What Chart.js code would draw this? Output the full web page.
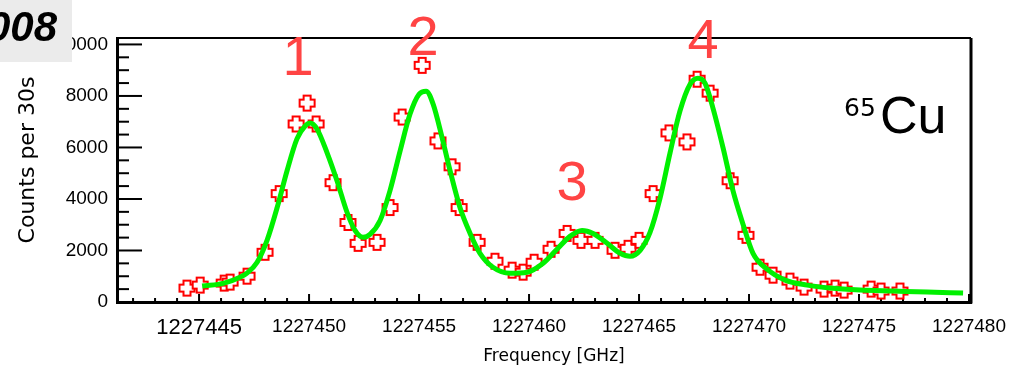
<!DOCTYPE html>
<html>
<head>
<meta charset="utf-8">
<script src="https://cdn.jsdelivr.net/npm/chart.js@4/dist/chart.umd.min.js"></script>
<style>
  body { margin: 0; background: #fff; }
  canvas { display: block; }
</style>
</head>
<body>
<canvas id="myChart" width="1035" height="376"></canvas>
<script>
// measured points (frequency in GHz, counts per 30 s)
const freqData = [
  1227444.45, 1227445.05, 1227446.14, 1227446.41, 1227447.18, 1227448.0, 1227448.64,
  1227449.41, 1227449.91, 1227450.32, 1227451.09, 1227451.77, 1227452.23, 1227453.09,
  1227453.68, 1227454.23, 1227455.14, 1227455.86, 1227456.5, 1227456.82, 1227457.64,
  1227458.45, 1227459.23, 1227459.73, 1227460.23, 1227461.0, 1227461.73, 1227462.36,
  1227463.0, 1227463.91, 1227464.5, 1227465.0, 1227465.64, 1227466.36, 1227467.18,
  1227467.64, 1227468.23, 1227469.14, 1227469.86, 1227470.5, 1227471.09, 1227471.86,
  1227472.5, 1227473.41, 1227473.91, 1227474.32, 1227475.55, 1227476.0, 1227476.86
];
const countsData = [
  541, 656, 734, 772, 1004, 1931, 4208,
  6911, 7722, 6911, 4633, 3089, 2278, 2317,
  3668, 7181, 9189, 6255, 5251, 3668, 2317,
  1583, 1236, 1158, 1544, 2046, 2664, 2394,
  2394, 2008, 2085, 2394, 4208, 6564, 6216,
  8649, 8108, 4710, 2587, 1351, 1042, 811,
  579, 502, 541, 463, 502, 425, 425
];

// fitted curve
const fitFreq = [
  1227445.14, 1227446.14, 1227446.86, 1227447.18, 1227447.64, 1227448.09, 1227448.55,
  1227449.0, 1227449.45, 1227449.82, 1227450.05, 1227450.36, 1227450.82, 1227451.27,
  1227451.73, 1227452.09, 1227452.45, 1227452.77, 1227453.23, 1227453.68, 1227454.14,
  1227454.59, 1227455.0, 1227455.32, 1227455.64, 1227456.05, 1227456.41, 1227456.86,
  1227457.32, 1227457.77, 1227458.36, 1227459.14, 1227459.91, 1227460.64, 1227461.27,
  1227461.86, 1227462.41, 1227462.91, 1227463.55, 1227464.14, 1227464.59, 1227465.05,
  1227465.5, 1227465.95, 1227466.41, 1227466.86, 1227467.32, 1227467.68, 1227468.0,
  1227468.36, 1227468.82, 1227469.27, 1227469.73, 1227470.18, 1227470.82, 1227471.64,
  1227472.64, 1227473.68, 1227475.05, 1227476.55, 1227478.09, 1227479.73
];
const fitCounts = [
  618, 734, 965, 1120, 1544, 2394, 3668,
  5097, 6332, 6834, 6950, 6718, 5792, 4710,
  3475, 2780, 2510, 2625, 3166, 4324, 5869,
  7297, 8069, 8185, 7683, 6371, 5097, 3668,
  2664, 1892, 1351, 1120, 1158, 1506, 2046,
  2548, 2780, 2664, 2278, 1892, 1776, 2008,
  2703, 4015, 5792, 7413, 8456, 8687, 8494,
  7529, 5985, 4324, 3012, 1892, 1274, 849,
  656, 541, 463, 425, 386, 347
];

const xTickLabels = [1227445, 1227450, 1227455, 1227460, 1227465, 1227470, 1227475, 1227480];
const yTickLabels = [0, 2000, 4000, 6000, 8000, 10000];
const peakLabels = ["1", "2", "3", "4"];

function makeCross() {
  const c = document.createElement("canvas");
  c.width = 19;
  c.height = 19;
  const g = c.getContext("2d");
  const m = 9.5, a = 3.5, l = 7.5;
  g.beginPath();
  g.moveTo(m - a, m - l); g.lineTo(m + a, m - l); g.lineTo(m + a, m - a);
  g.lineTo(m + l, m - a); g.lineTo(m + l, m + a); g.lineTo(m + a, m + a);
  g.lineTo(m + a, m + l); g.lineTo(m - a, m + l); g.lineTo(m - a, m + a);
  g.lineTo(m - l, m + a); g.lineTo(m - l, m - a); g.lineTo(m - a, m - a);
  g.closePath();
  g.fillStyle = "#fff";
  g.fill();
  g.strokeStyle = "#f00";
  g.lineWidth = 2;
  g.stroke();
  return c;
}

// inner ticks, frame and labels
const decor = {
  id: "decor",
  beforeDatasetsDraw(chart) {
    const { ctx, chartArea, scales } = chart;
    ctx.save();
    ctx.strokeStyle = "#000";
    ctx.lineWidth = 2;
    scales.x.ticks.forEach((t) => {
      const px = scales.x.getPixelForValue(t.value);
      const len = t.value % 5 === 0 ? 8 : 4;
      ctx.beginPath();
      ctx.moveTo(px, chartArea.bottom);
      ctx.lineTo(px, chartArea.bottom - len);
      ctx.stroke();
    });
    scales.y.ticks.forEach((t) => {
      const py = scales.y.getPixelForValue(t.value);
      const len = t.value % 2000 === 0 ? 25 : 12;
      ctx.beginPath();
      ctx.moveTo(chartArea.left, py);
      ctx.lineTo(chartArea.left + len, py);
      ctx.stroke();
    });
    ctx.restore();
  },
  afterDraw(chart) {
    const { ctx, chartArea } = chart;
    ctx.save();
    ctx.strokeStyle = "#000";
    ctx.lineWidth = 2;
    ctx.beginPath();
    ctx.moveTo(chartArea.left, chartArea.top);
    ctx.lineTo(chartArea.right, chartArea.top);
    ctx.stroke();
    ctx.lineWidth = 3;
    ctx.beginPath();
    ctx.moveTo(chartArea.right, chartArea.top);
    ctx.lineTo(chartArea.right, chartArea.bottom + 1.5);
    ctx.stroke();

    // peak numbers
    ctx.fillStyle = "#ff4444";
    ctx.font = "56px 'Liberation Sans'";
    ctx.textAlign = "center";
    ctx.textBaseline = "alphabetic";
    const pos = [[298, 75], [423, 55], [572, 200], [703, 58]];
    peakLabels.forEach((s, i) => ctx.fillText(s, pos[i][0], pos[i][1]));

    // isotope
    ctx.fillStyle = "#000";
    ctx.textAlign = "left";
    ctx.font = "25px 'DejaVu Sans'";
    ctx.fillText("65", 844, 116);
    ctx.font = "52px 'Liberation Sans'";
    ctx.fillText("Cu", 880, 133);

    // axis titles
    ctx.font = "17px 'DejaVu Sans'";
    ctx.textAlign = "center";
    ctx.textBaseline = "middle";
    ctx.fillText("Frequency [GHz]", 554, 357);
    ctx.save();
    ctx.translate(28, 160);
    ctx.rotate(-Math.PI / 2);
    ctx.font = "22px 'DejaVu Sans'";
    ctx.fillText("Counts per 30s", 0, 0);
    ctx.restore();

    // year tag in the corner
    ctx.fillStyle = "#ebebeb";
    ctx.fillRect(0, 0, 72, 62);
    ctx.fillStyle = "#000";
    ctx.font = "italic bold 42px 'Liberation Sans'";
    ctx.textAlign = "right";
    ctx.textBaseline = "alphabetic";
    ctx.fillText("2008", 57, 41);
    ctx.restore();
  },
};

const canvasChart = document.getElementById("myChart").getContext("2d");
const cross = makeCross();

const myChart = new Chart(canvasChart, {
  data: {
    datasets: [
      {
        type: "line",
        label: "fit",
        data: fitFreq.map((f, i) => ({ x: f, y: fitCounts[i] })),
        borderColor: "#00f000",
        borderWidth: 5,
        pointRadius: 0,
        cubicInterpolationMode: "monotone",
        fill: false,
        order: 0,
      },
      {
        type: "scatter",
        label: "data",
        data: freqData.map((f, i) => ({ x: f, y: countsData[i] })),
        pointStyle: cross,
        pointRadius: 8,
        order: 1,
      },
    ],
  },
  options: {
    responsive: false,
    animation: false,
    devicePixelRatio: 1,
    layout: { padding: { left: 0, top: 38, right: 64, bottom: 0 } },
    plugins: { legend: { display: false }, tooltip: { enabled: false } },
    scales: {
      x: {
        type: "linear",
        min: 1227441.27,
        max: 1227480.09,
        afterBuildTicks(scale) {
          const t = [];
          for (let v = 1227442; v <= 1227480; v++) t.push({ value: v });
          scale.ticks = t;
        },
        afterFit(scale) {
          scale.height = 74;
        },
        grid: { display: false, drawTicks: false },
        border: { display: true, color: "#000", width: 3 },
        ticks: {
          autoSkip: false,
          maxRotation: 0,
          padding: 13,
          color: "#000",
          font: (c) => ({
            family: "'Liberation Sans'",
            size: c.tick && c.tick.value === 1227445 ? 22 : 19,
          }),
          callback: (v) => (xTickLabels.includes(v) ? String(v) : ""),
        },
      },
      y: {
        type: "linear",
        min: 0,
        max: 10250,
        afterBuildTicks(scale) {
          const t = [];
          for (let v = 0; v <= 10000; v += 500) t.push({ value: v });
          scale.ticks = t;
        },
        afterFit(scale) {
          scale.width = 117;
        },
        grid: { display: false, drawTicks: false },
        border: { display: true, color: "#000", width: 3 },
        ticks: {
          autoSkip: false,
          padding: 9,
          color: "#000",
          font: { family: "'Liberation Sans'", size: 19 },
          callback: (v) => (yTickLabels.includes(v) ? String(v) : ""),
        },
      },
    },
  },
  plugins: [decor],
});
</script>
</body>
</html>
